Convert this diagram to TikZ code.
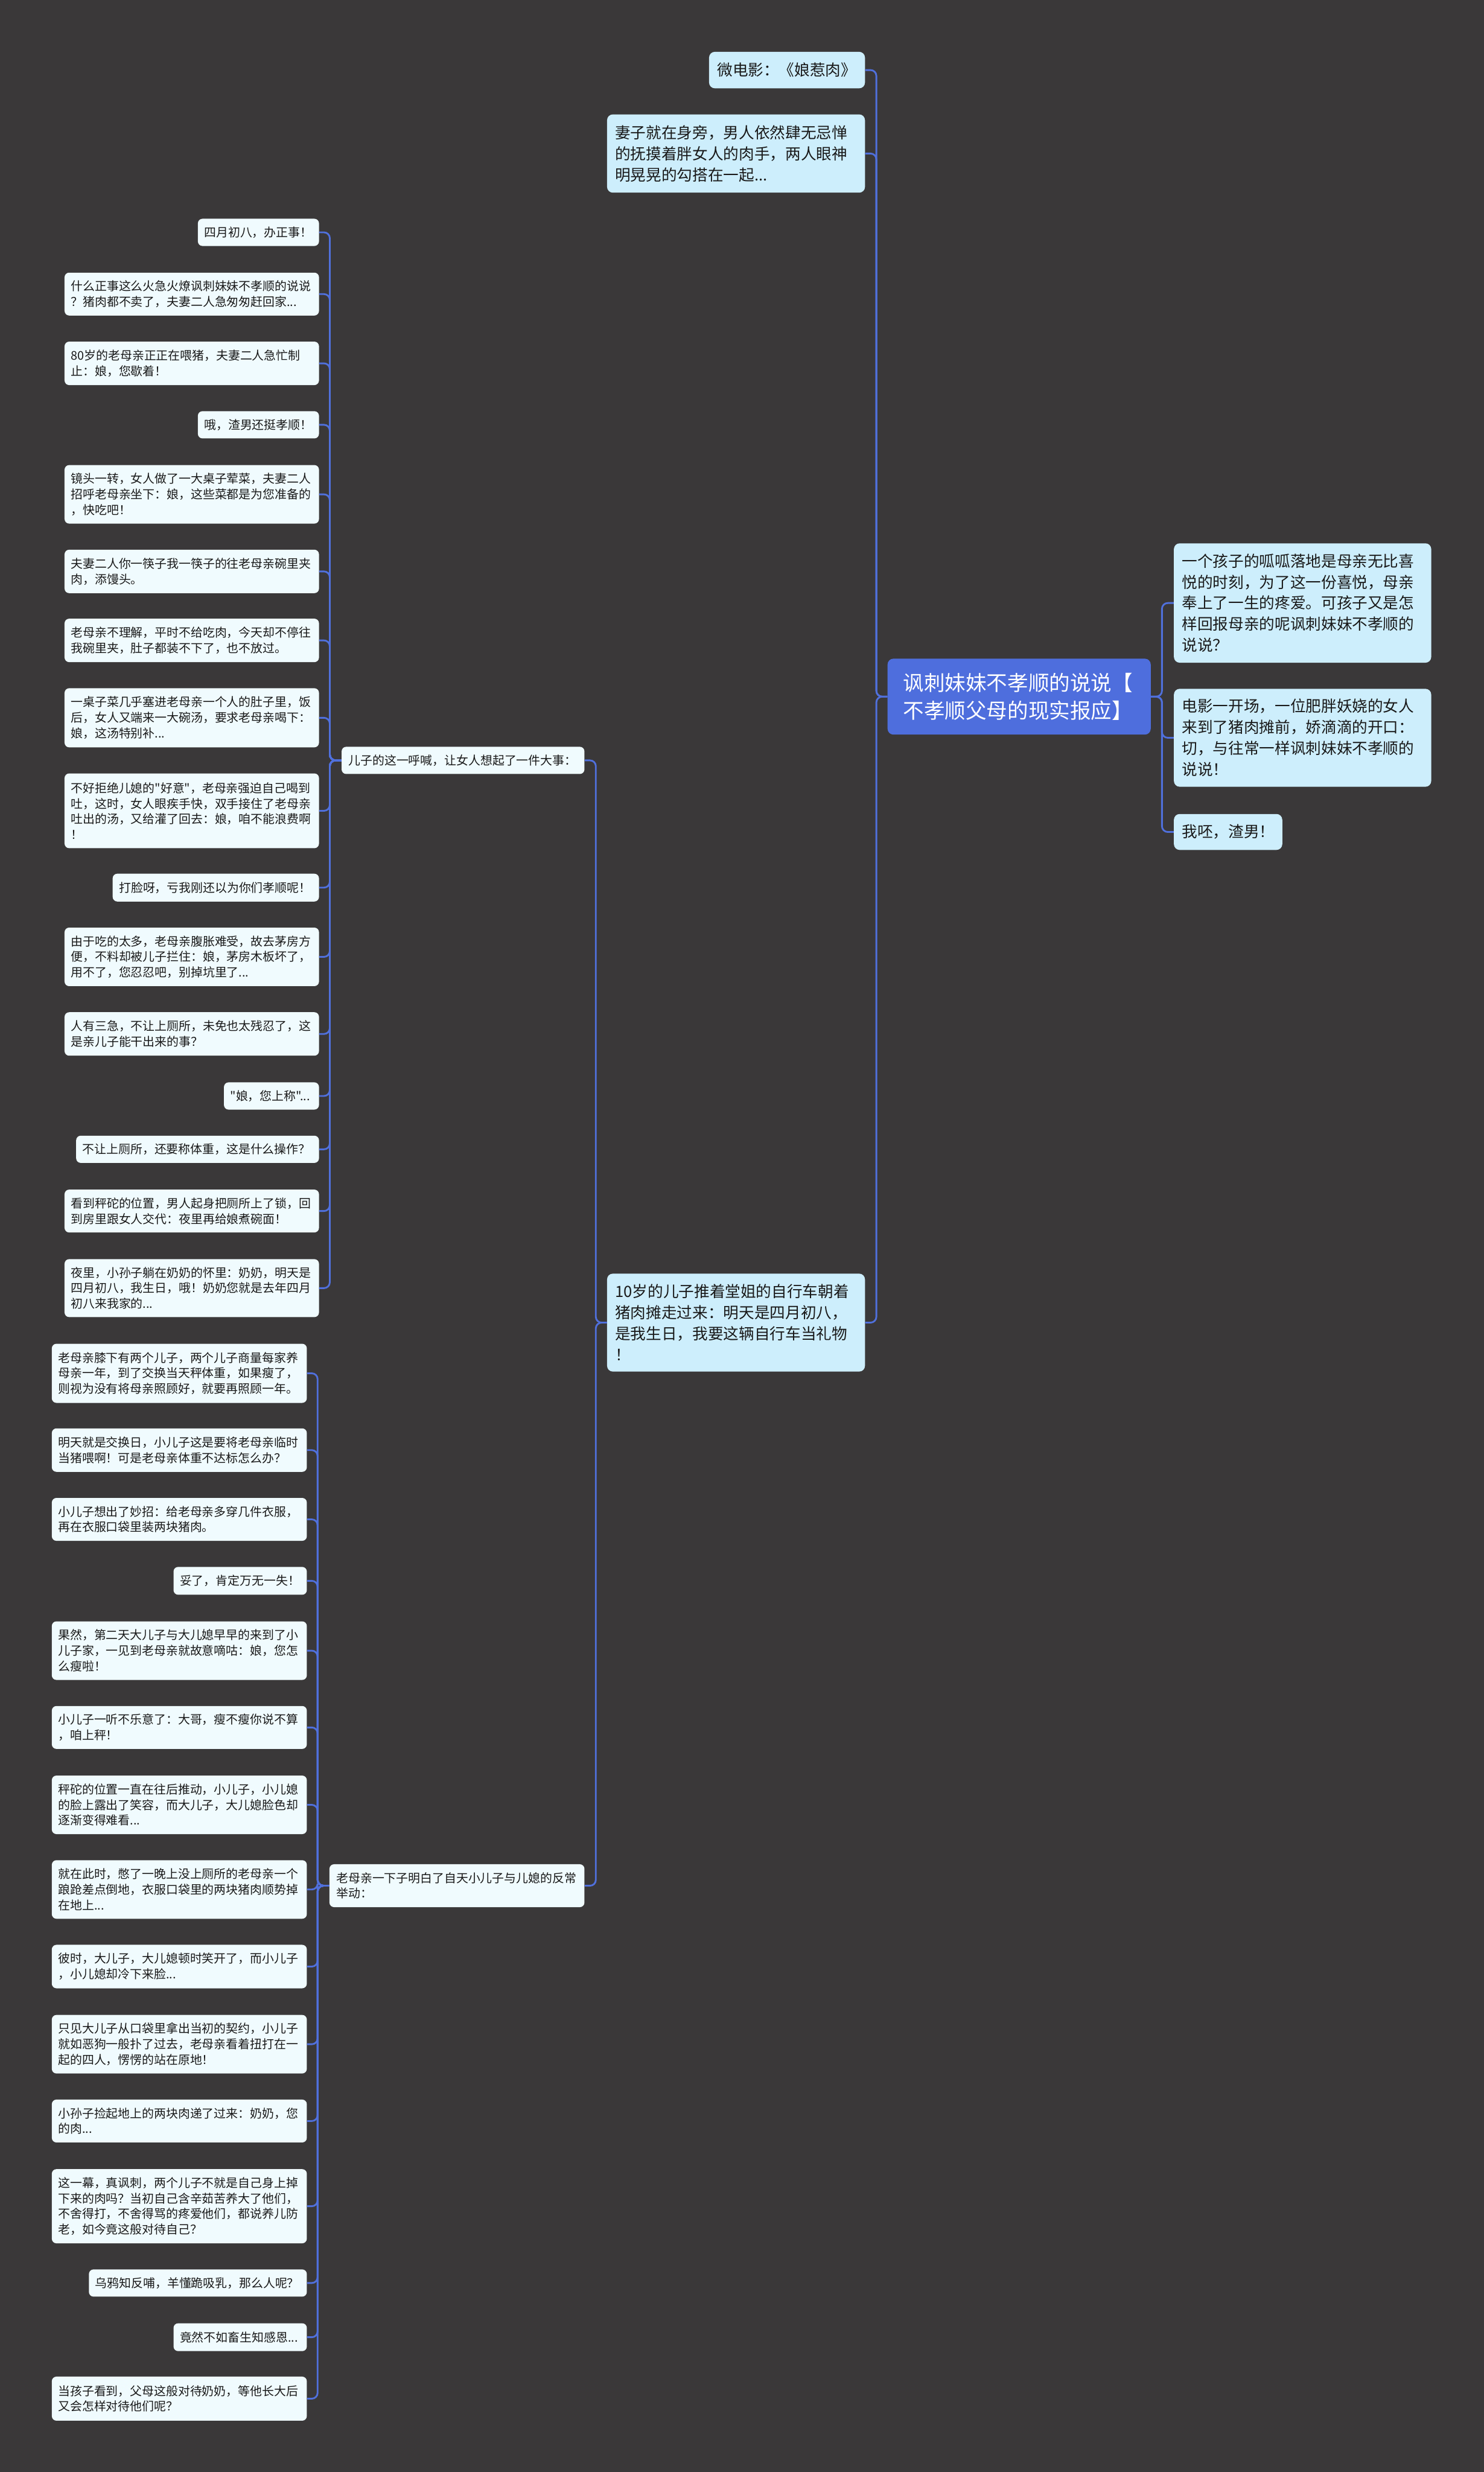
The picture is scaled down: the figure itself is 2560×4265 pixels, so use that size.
\documentclass[tikz,border=0pt]{standalone}
\usepackage{fontspec}
\newfontfamily\cjk{Noto Sans CJK SC}
\definecolor{bgc}{RGB}{58,56,57}
\definecolor{leaffill}{RGB}{240,251,254}
\definecolor{bigfill}{RGB}{205,238,252}
\definecolor{rootfill}{RGB}{78,110,221}
\definecolor{linec}{RGB}{80,112,220}
\definecolor{txt}{RGB}{25,25,25}
\tikzset{
  base/.style={text=txt, inner sep=0pt, align=left},
  leaf/.style={base, fill=leaffill, rounded corners=4pt, font=\cjk\fontsize{10.35pt}{13.4pt}\selectfont},
  big/.style={base, fill=bigfill, rounded corners=5pt, font=\cjk\fontsize{13.35pt}{18.2pt}\selectfont},
  rootn/.style={base, fill=rootfill, text=white, rounded corners=5pt, font=\cjk\fontsize{18pt}{24pt}\selectfont},
  conn/.style={draw=linec, line width=1.5pt, rounded corners=5pt},
}
% #1 style, #2 pad(px), #3 name, #4 x1, #5 y1, #6 x2, #7 y2, #8 text
\newcommand\bx[8]{%
  \pgfmathsetmacro\bxw{(#6-#4)*0.5}%
  \pgfmathsetmacro\bxh{(#7-#5)*0.5}%
  \pgfmathsetmacro\bxt{(#6-#4-2*#2)*0.5}%
  \node[#1, anchor=north west, minimum width=\bxw pt, minimum height=\bxh pt, text width=\bxt pt] (#3) at (#4,#5) {#8};}
\newcommand\lc[3]{\draw[conn] (#1.west) -- ++(-#3,0) |- (#2.east);}
\newcommand\rc[3]{\draw[conn] (#1.east) -- ++(#3,0) |- (#2.west);}
\begin{document}
\begin{tikzpicture}[x=0.5pt,y=-0.5pt]
\fill[bgc] (0,0) rectangle (2560,4265);
\useasboundingbox (0,0) rectangle (2560,4265);

% root
\bx{rootn}{27}{root}{1531}{1136}{1985}{1267}{讽刺妹妹不孝顺的说说【\\不孝顺父母的现实报应】}

% right children
\bx{big}{14}{r1}{2025}{937}{2469}{1143}{一个孩子的呱呱落地是母亲无比喜\\悦的时刻，为了这一份喜悦，母亲\\奉上了一生的疼爱。可孩子又是怎\\样回报母亲的呢讽刺妹妹不孝顺的\\说说？}
\bx{big}{14}{r2}{2025}{1188}{2469}{1357}{电影一开场，一位肥胖妖娆的女人\\来到了猪肉摊前，娇滴滴的开口：\\切，与往常一样讽刺妹妹不孝顺的\\说说！}
\bx{big}{14}{r3}{2025}{1404}{2212}{1466}{我呸，渣男！}

% left level 2
\bx{big}{14}{a1}{1223}{89}{1492}{152}{微电影：《娘惹肉》}
\bx{big}{14}{a2}{1047}{197}{1492}{332}{妻子就在身旁，男人依然肆无忌惮\\的抚摸着胖女人的肉手，两人眼神\\明晃晃的勾搭在一起...}
\bx{big}{14}{a3}{1047}{2197}{1492}{2366}{10岁的儿子推着堂姐的自行车朝着\\猪肉摊走过来：明天是四月初八，\\是我生日，我要这辆自行车当礼物\\！}

% level 3
\bx{leaf}{12}{b1}{589}{1288}{1008}{1335}{儿子的这一呼喊，让女人想起了一件大事：}
\bx{leaf}{12}{b2}{568}{3216}{1008}{3290}{老母亲一下子明白了自天小儿子与儿媳的反常\\举动：}

% children of b1
\bx{leaf}{11}{c1}{341}{377}{550}{424}{四月初八，办正事！}
\bx{leaf}{11}{c2}{111}{470}{550}{544}{什么正事这么火急火燎讽刺妹妹不孝顺的说说\\？猪肉都不卖了，夫妻二人急匆匆赶回家...}
\bx{leaf}{11}{c3}{111}{589}{550}{664}{80岁的老母亲正正在喂猪，夫妻二人急忙制\\止：娘，您歇着！}
\bx{leaf}{11}{c4}{341}{709}{550}{756}{哦，渣男还挺孝顺！}
\bx{leaf}{11}{c5}{111}{802}{550}{903}{镜头一转，女人做了一大桌子荤菜，夫妻二人\\招呼老母亲坐下：娘，这些菜都是为您准备的\\，快吃吧！}
\bx{leaf}{11}{c6}{111}{948}{550}{1023}{夫妻二人你一筷子我一筷子的往老母亲碗里夹\\肉，添馒头。}
\bx{leaf}{11}{c7}{111}{1067}{550}{1142}{老母亲不理解，平时不给吃肉，今天却不停往\\我碗里夹，肚子都装不下了，也不放过。}
\bx{leaf}{11}{c8}{111}{1187}{550}{1289}{一桌子菜几乎塞进老母亲一个人的肚子里，饭\\后，女人又端来一大碗汤，要求老母亲喝下：\\娘，这汤特别补...}
\bx{leaf}{11}{c9}{111}{1334}{550}{1463}{不好拒绝儿媳的"好意"，老母亲强迫自己喝到\\吐，这时，女人眼疾手快，双手接住了老母亲\\吐出的汤，又给灌了回去：娘，咱不能浪费啊\\！}
\bx{leaf}{11}{c10}{194}{1507}{550}{1555}{打脸呀，亏我刚还以为你们孝顺呢！}
\bx{leaf}{11}{c11}{111}{1600}{550}{1701}{由于吃的太多，老母亲腹胀难受，故去茅房方\\便，不料却被儿子拦住：娘，茅房木板坏了，\\用不了，您忍忍吧，别掉坑里了...}
\bx{leaf}{11}{c12}{111}{1746}{550}{1821}{人有三急，不让上厕所，未免也太残忍了，这\\是亲儿子能干出来的事？}
\bx{leaf}{11}{c13}{386}{1867}{550}{1914}{"娘，您上称"...}
\bx{leaf}{11}{c14}{131}{1959}{550}{2006}{不让上厕所，还要称体重，这是什么操作？}
\bx{leaf}{11}{c15}{111}{2052}{550}{2126}{看到秤砣的位置，男人起身把厕所上了锁，回\\到房里跟女人交代：夜里再给娘煮碗面！}
\bx{leaf}{11}{c16}{111}{2172}{550}{2272}{夜里，小孙子躺在奶奶的怀里：奶奶，明天是\\四月初八，我生日，哦！奶奶您就是去年四月\\初八来我家的...}

% children of b2
\bx{leaf}{11}{d1}{89}{2318}{529}{2420}{老母亲膝下有两个儿子，两个儿子商量每家养\\母亲一年，到了交换当天秤体重，如果瘦了，\\则视为没有将母亲照顾好，就要再照顾一年。}
\bx{leaf}{11}{d2}{89}{2464}{529}{2539}{明天就是交换日，小儿子这是要将老母亲临时\\当猪喂啊！可是老母亲体重不达标怎么办？}
\bx{leaf}{11}{d3}{89}{2584}{529}{2658}{小儿子想出了妙招：给老母亲多穿几件衣服，\\再在衣服口袋里装两块猪肉。}
\bx{leaf}{11}{d4}{299}{2703}{529}{2751}{妥了，肯定万无一失！}
\bx{leaf}{11}{d5}{89}{2797}{529}{2898}{果然，第二天大儿子与大儿媳早早的来到了小\\儿子家，一见到老母亲就故意嘀咕：娘，您怎\\么瘦啦！}
\bx{leaf}{11}{d6}{89}{2943}{529}{3017}{小儿子一听不乐意了：大哥，瘦不瘦你说不算\\，咱上秤！}
\bx{leaf}{11}{d7}{89}{3063}{529}{3164}{秤砣的位置一直在往后推动，小儿子，小儿媳\\的脸上露出了笑容，而大儿子，大儿媳脸色却\\逐渐变得难看...}
\bx{leaf}{11}{d8}{89}{3209}{529}{3310}{就在此时，憋了一晚上没上厕所的老母亲一个\\踉跄差点倒地，衣服口袋里的两块猪肉顺势掉\\在地上...}
\bx{leaf}{11}{d9}{89}{3355}{529}{3430}{彼时，大儿子，大儿媳顿时笑开了，而小儿子\\，小儿媳却冷下来脸...}
\bx{leaf}{11}{d10}{89}{3476}{529}{3577}{只见大儿子从口袋里拿出当初的契约，小儿子\\就如恶狗一般扑了过去，老母亲看着扭打在一\\起的四人，愣愣的站在原地！}
\bx{leaf}{11}{d11}{89}{3622}{529}{3696}{小孙子捡起地上的两块肉递了过来：奶奶，您\\的肉...}
\bx{leaf}{11}{d12}{89}{3742}{529}{3870}{这一幕，真讽刺，两个儿子不就是自己身上掉\\下来的肉吗？当初自己含辛茹苦养大了他们，\\不舍得打，不舍得骂的疼爱他们，都说养儿防\\老，如今竟这般对待自己？}
\bx{leaf}{11}{d13}{153}{3915}{529}{3962}{乌鸦知反哺，羊懂跪吸乳，那么人呢？}
\bx{leaf}{11}{d14}{299}{4008}{529}{4056}{竟然不如畜生知感恩...}
\bx{leaf}{11}{d15}{89}{4100}{529}{4176}{当孩子看到，父母这般对待奶奶，等他长大后\\又会怎样对待他们呢？}

% connectors
\rc{root}{r1}{19}
\rc{root}{r2}{19}
\rc{root}{r3}{19}
\lc{root}{a1}{19}
\lc{root}{a2}{19}
\lc{root}{a3}{19}
\lc{a3}{b1}{19}
\lc{a3}{b2}{19}
\foreach \i in {1,...,16} {\lc{b1}{c\i}{20}}
\foreach \i in {1,...,15} {\lc{b2}{d\i}{20}}
\end{tikzpicture}
\end{document}
